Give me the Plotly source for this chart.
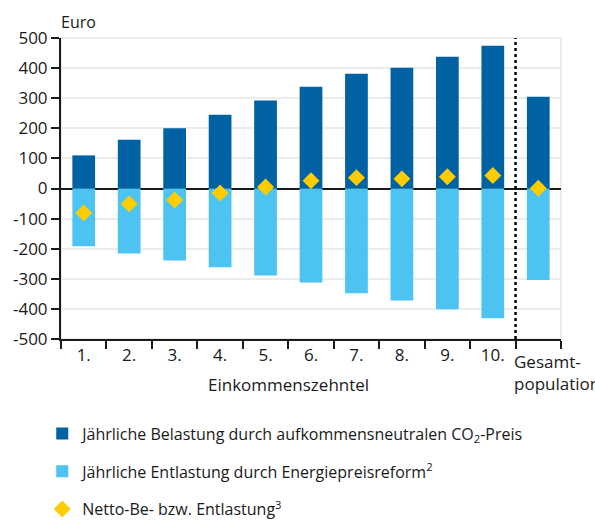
import plotly.graph_objects as go

categories = ["1.", "2.", "3.", "4.", "5.", "6.", "7.", "8.", "9.", "10.", "Gesamt"]
tick_labels = ["1.", "2.", "3.", "4.", "5.", "6.", "7.", "8.", "9.", "10.", ""]
y_tick_values = [-500, -400, -300, -200, -100, 0, 100, 200, 300, 400, 500]
y_tick_labels = ["-500", "-400", "-300", "-200", "-100", "0", "100", "200", "300", "400", "500"]
belastung = [110, 162, 200, 245, 292, 338, 381, 401, 438, 474, 305]
entlastung = [-192, -216, -239, -262, -289, -312, -348, -372, -401, -431, -304]
netto = [-81, -51, -38, -15, 5, 26, 36, 32, 39, 43, 1]

FONT = "Open Sans"
DARK = "#0062a3"
LIGHT = "#4dc3f2"
YELLOW = "#ffcc00"
TXT = "#1a1a1a"

fig = go.Figure()
fig.add_trace(go.Bar(
    x=categories, y=belastung, width=0.5, marker_color=DARK, marker_line_width=0,
    name="Jährliche Belastung durch aufkommensneutralen CO<sub>2</sub>-Preis",
    legendgroup="a"))
fig.add_trace(go.Bar(
    x=categories, y=entlastung, width=0.5, marker_color=LIGHT, marker_line_width=0,
    name="Jährliche Entlastung durch Energiepreisreform<sup>2</sup>",
    legendgroup="b"))
fig.add_trace(go.Scatter(
    x=categories, y=netto, mode="markers",
    marker=dict(symbol="diamond", size=13, color=YELLOW, line_width=0),
    name="Netto-Be- bzw. Entlastung<sup>3</sup>", legendgroup="c"))

fig.update_layout(
    width=595, height=522,
    margin=dict(l=61, r=34, t=38, b=183, autoexpand=False),
    paper_bgcolor="white", plot_bgcolor="white",
    barmode="relative",
    font=dict(family=FONT, size=15, color=TXT),
    showlegend=True,
    legend=dict(
        orientation="v", xref="container", yref="container",
        x=0.071, y=0.202, xanchor="left", yanchor="top",
        tracegroupgap=14, itemwidth=30, font=dict(size=16, color=TXT),
        bgcolor="rgba(0,0,0,0)",
    ),
    xaxis=dict(
        type="category", categoryorder="array", categoryarray=categories,
        tickmode="array", tickvals=categories, ticktext=tick_labels,
        tickson="boundaries", ticks="outside", ticklen=8, tickwidth=2, tickcolor=TXT,
        showline=True, linecolor=TXT, linewidth=2,
        showgrid=False, range=[-0.5, 10.5],
        tickfont=dict(size=17),
    ),
    yaxis=dict(
        range=[-500, 500], tickmode="array", tickvals=y_tick_values, ticktext=y_tick_labels,
        ticks="outside", ticklen=8, tickwidth=2, tickcolor=TXT,
        showline=True, linecolor=TXT, linewidth=2,
        showgrid=True, gridcolor="#ececec", gridwidth=2,
        zeroline=True, zerolinecolor=TXT, zerolinewidth=2,
        tickfont=dict(size=17),
    ),
)

# light frame on top/right
fig.add_shape(type="rect", xref="paper", yref="paper", x0=0, x1=1, y0=0, y1=1,
              line=dict(color="#ececec", width=2), layer="below")
# dotted separator
fig.add_shape(type="line", xref="x", yref="paper", x0=9.5, x1=9.5, y0=0, y1=1,
              line=dict(color="black", width=2.5, dash="dot"))

fig.add_annotation(text="Euro", xref="paper", yref="paper", x=0, y=1.0,
                   xanchor="left", yanchor="bottom", yshift=3, xshift=-2, showarrow=False,
                   font=dict(size=16, color=TXT))
fig.add_annotation(text="Einkommenszehntel", xref="x", yref="paper", x=4.5, y=0,
                   xanchor="center", yanchor="top", yshift=-32, showarrow=False,
                   font=dict(size=17, color=TXT))
fig.add_annotation(text="Gesamt-<br>population", xref="x", yref="paper", x=9.5, y=0,
                   xanchor="left", yanchor="top", yshift=-9, xshift=-4, showarrow=False,
                   align="left", font=dict(size=17, color=TXT))

fig.write_html("out.html")
